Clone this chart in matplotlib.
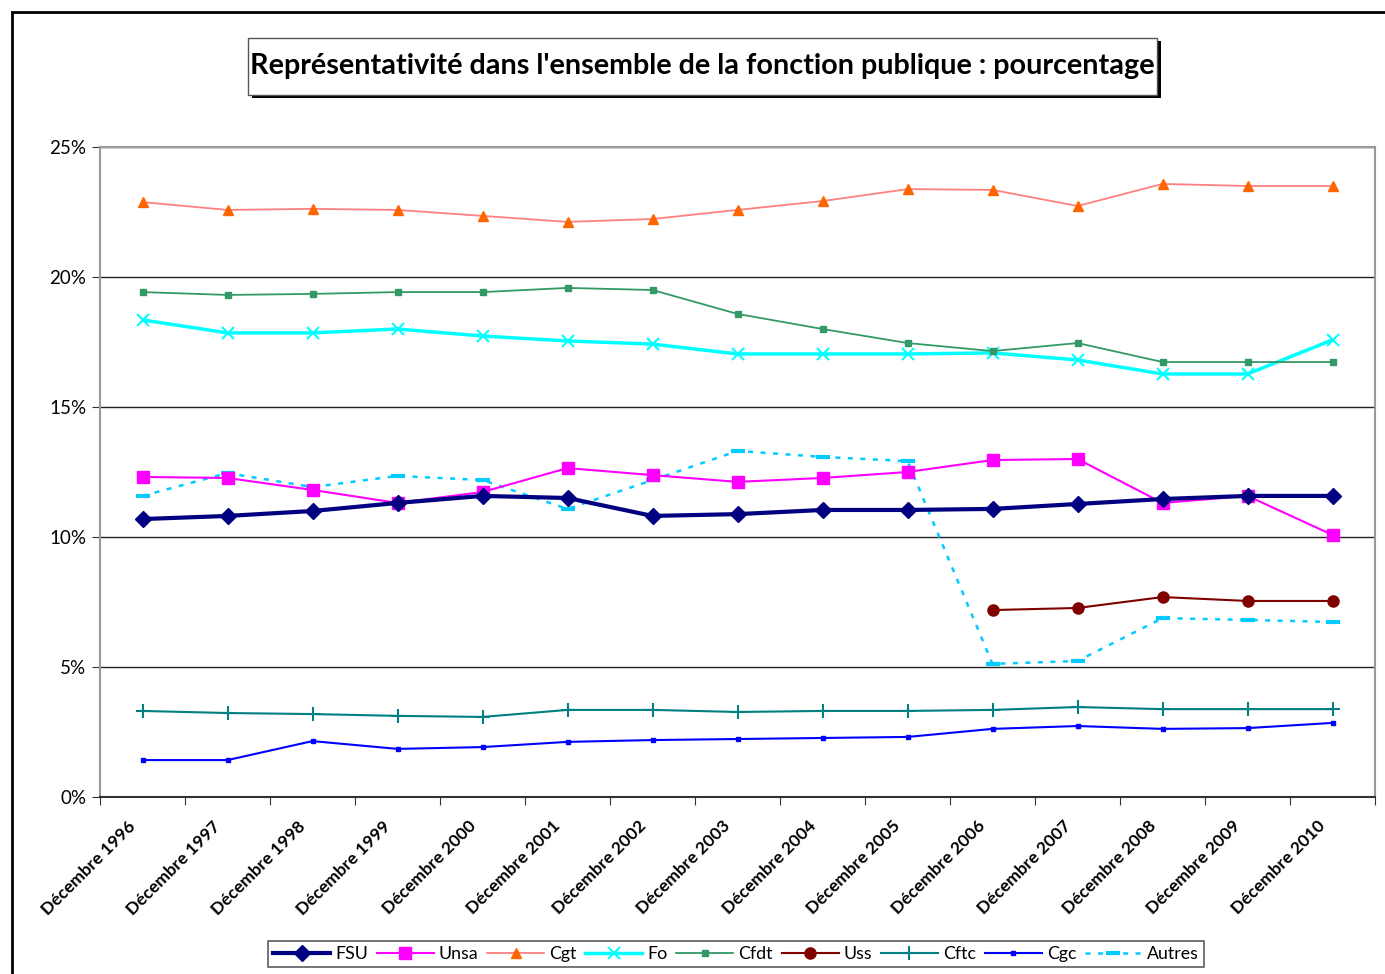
import matplotlib.pyplot as plt
import numpy as np
from matplotlib.patches import Rectangle
from matplotlib.ticker import FuncFormatter
from matplotlib.transforms import ScaledTranslation

# Data (percent)
years = [f"Décembre {y}" for y in range(1996, 2011)]
fsu = [10.69, 10.81, 11.0, 11.31, 11.58, 11.5, 10.81, 10.88, 11.04, 11.04, 11.08, 11.27, 11.46, 11.58, 11.58]
unsa = [12.31, 12.27, 11.81, 11.31, 11.73, 12.65, 12.38, 12.12, 12.27, 12.5, 12.96, 13.0, 11.31, 11.58, 10.08]
cgt = [22.88, 22.58, 22.62, 22.58, 22.35, 22.12, 22.23, 22.58, 22.92, 23.38, 23.35, 22.73, 23.58, 23.5, 23.5]
fo = [18.35, 17.85, 17.85, 18.0, 17.73, 17.54, 17.42, 17.04, 17.04, 17.04, 17.08, 16.81, 16.27, 16.27, 17.58]
cfdt = [19.42, 19.31, 19.35, 19.42, 19.42, 19.58, 19.5, 18.58, 18.0, 17.46, 17.15, 17.46, 16.73, 16.73, 16.73]
uss = [np.nan] * 10 + [7.19, 7.27, 7.69, 7.54, 7.54]
cftc = [3.31, 3.23, 3.19, 3.12, 3.08, 3.35, 3.35, 3.27, 3.31, 3.31, 3.35, 3.46, 3.38, 3.38, 3.38]
cgc = [1.42, 1.42, 2.15, 1.85, 1.92, 2.12, 2.19, 2.23, 2.27, 2.31, 2.62, 2.73, 2.62, 2.65, 2.85]
autres = [11.58, 12.46, 11.92, 12.35, 12.19, 11.08, 12.19, 13.31, 13.08, 12.92, 5.12, 5.23, 6.88, 6.81, 6.73]

FONT = ["Lato", "DejaVu Sans"]


def main():
    fig = plt.figure(figsize=(13.85, 9.74), dpi=100)
    ax = fig.add_axes([100 / 1385, 177 / 974, 1275 / 1385, 650 / 974])
    x = np.arange(len(years))

    ax.plot(x, fsu, color="#000080", lw=3, marker="D", ms=8, label="FSU", zorder=6)
    ax.plot(x, unsa, color="#FF00FF", lw=1.5, marker="s", ms=8, label="Unsa", zorder=5)
    ax.plot(x, cgt, color="#FF8080", lw=1.3, marker="^", ms=7,
            mfc="#FF6600", mec="#FF6600", label="Cgt")
    ax.plot(x, fo, color="#00FFFF", lw=2.5, marker="x", ms=8, mew=1.5, label="Fo")
    ax.plot(x, cfdt, color="#339966", lw=1.3, marker="s", ms=4, label="Cfdt")
    ax.plot(x, uss, color="#800000", lw=1.5, marker="o", ms=8, label="Uss")
    ax.plot(x, cftc, color="#008080", lw=1.5, marker="+", ms=10, mew=1.5, label="Cftc")
    ax.plot(x, cgc, color="#0000FF", lw=1.5, marker="s", ms=3, label="Cgc")
    ax.plot(x, autres, color="#00CCFF", lw=1.8, ls=(0, (2, 3)), marker="_",
            ms=10, mew=3, label="Autres")

    ax.set_xlim(-0.5, len(years) - 0.5)
    ax.set_ylim(0, 25)
    ax.set_yticks([0, 5, 10, 15, 20, 25])
    ax.yaxis.set_major_formatter(FuncFormatter(lambda v, p: f"{v:.0f}%"))
    ax.grid(axis="y", color="#222222", lw=1)
    ax.set_axisbelow(True)

    # category labels, drawn as rotated texts under each category
    ax.set_xticks(np.arange(-0.5, len(years)))
    ax.set_xticklabels([])
    ax.tick_params(axis="x", length=6, color="#333333")
    shift = ScaledTranslation(-15 / 100, -21 / 100, fig.dpi_scale_trans)
    for i, lab in enumerate(years):
        ax.text(i, 0, lab, transform=ax.get_xaxis_transform() + shift,
                rotation=45, ha="right", va="top", rotation_mode="anchor",
                fontsize=12.5, fontweight="bold", family=FONT)

    ax.tick_params(axis="y", length=6, labelsize=13.5, color="#333333", pad=4)
    for lab in ax.get_yticklabels():
        lab.set_family(FONT)

    for side in ["left", "right", "top"]:
        ax.spines[side].set_color("#999999")
        ax.spines[side].set_linewidth(1.5)
    ax.spines["bottom"].set_color("#333333")
    ax.spines["bottom"].set_linewidth(1.5)

    # title box with shadow
    fig.patches.append(Rectangle((252 / 1385, 1 - 98 / 974), 909 / 1385, 57 / 974,
                                 transform=fig.transFigure, fc="black", ec="none"))
    fig.patches.append(Rectangle((248 / 1385, 1 - 95 / 974), 909 / 1385, 57 / 974,
                                 transform=fig.transFigure, fc="white", ec="#555555", lw=1))
    fig.text(702 / 1385, 1 - 66 / 974,
             "Représentativité dans l'ensemble de la fonction publique : pourcentage",
             ha="center", va="center", fontsize=20.7, fontweight="bold", family=FONT)

    # outer frame
    fig.patches.append(Rectangle((12 / 1385, -0.1), 1.2, 1 - 12 / 974 + 0.1,
                                 transform=fig.transFigure, fc="none", ec="black", lw=2))

    leg = ax.legend(loc="center", bbox_to_anchor=(736 / 1385, 1 - 954 / 974),
                    bbox_transform=fig.transFigure, ncol=9, frameon=True,
                    fancybox=False, edgecolor="#333333", handlelength=3.2,
                    columnspacing=0.5, handletextpad=0.28, borderpad=0.3,
                    prop={"family": FONT, "size": 12.8})
    leg.get_frame().set_linewidth(1.2)

    fig.savefig("out.png", dpi=100)


if __name__ == "__main__":
    main()
